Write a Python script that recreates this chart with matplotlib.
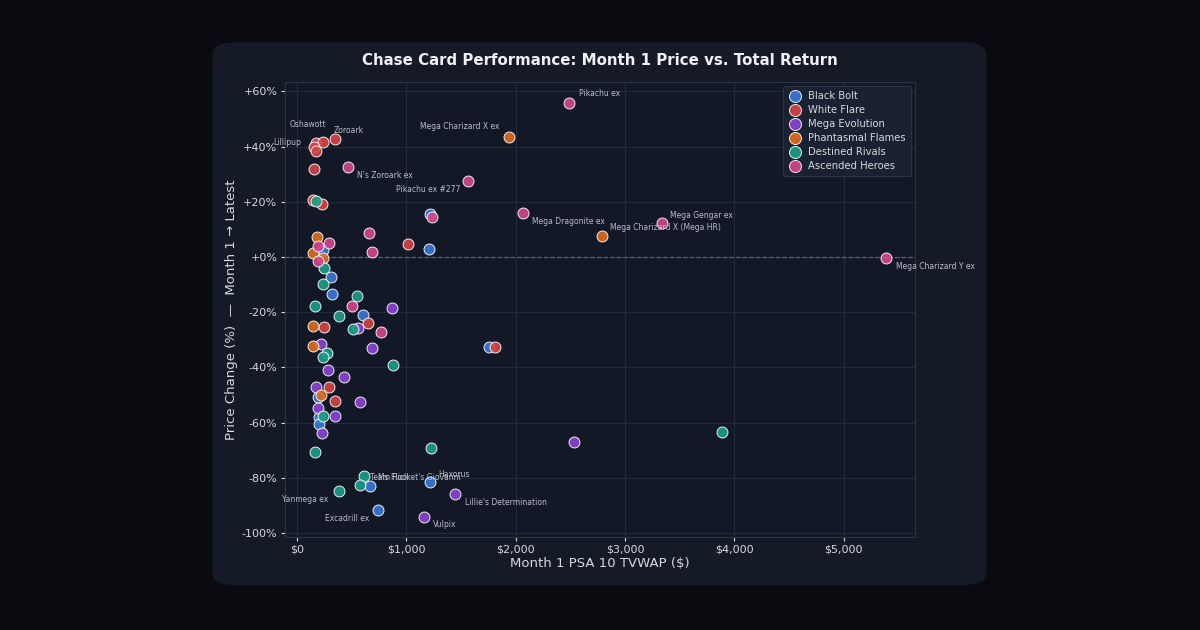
import numpy as np
import matplotlib
matplotlib.use('Agg')
import matplotlib.pyplot as plt
from matplotlib.patches import FancyBboxPatch
from matplotlib.ticker import FuncFormatter

################################### Dati ##########################################
# Month 1 PSA 10 TVWAP ($) e variazione di prezzo (%) per set
bb_x = [1217, 1208, 235, 308, 320, 607, 1759, 195, 204, 201, 668, 1214, 738]
bb_y = [15.6, 2.8, 2.5, -7.2, -13.4, -21.1, -32.4, -50.6, -58.1, -60.6, -82.9, -81.6, -91.6]
bb_n = ['', '', '', '', '', '', '', '', '', '', 'Ms Flick', 'Haxorus', 'Excadrill ex']

wf_x = [174, 241, 348, 158, 174, 153, 231, 149, 1013, 652, 250, 1809, 293, 348]
wf_y = [41.3, 41.8, 42.8, 39.9, 38.4, 31.9, 19.1, 20.5, 4.6, -24.0, -25.4, -32.5, -47.2, -52.1]
wf_n = ['Oshawott', '', 'Zoroark', '', 'Lillipup', '', '', '', '', '', '', '', '', '']

me_x = [866, 561, 220, 683, 284, 433, 171, 576, 195, 350, 226, 2532, 1446, 1165]
me_y = [-18.6, -25.6, -31.5, -33.1, -40.9, -43.6, -47.0, -52.6, -54.6, -57.5, -63.8, -67.1, -85.8, -94.0]
me_n = ['', '', '', '', '', '', '', '', '', '', '', '', "Lillie's Determination", 'Vulpix']

pf_x = [1940, 2788, 180, 149, 241, 149, 149, 220]
pf_y = [43.4, 7.6, 7.4, 1.3, -0.3, -24.9, -32.1, -50.0]
pf_n = ['Mega Charizard X ex', 'Mega Charizard X (Mega HR)', '', '', '', '', '', '']

dr_x = [174, 250, 241, 552, 165, 387, 515, 272, 241, 881, 241, 165, 1226, 3891, 610, 576, 384]
dr_y = [20.3, -3.9, -9.8, -14.1, -17.6, -21.3, -26.1, -34.9, -36.1, -39.0, -57.6, -70.5, -69.0, -63.4, -79.2, -82.7, -84.7]
dr_n = ['', '', '', '', '', '', '', '', '', '', '', '', '', '', '', "Team Rocket's Giovanni", 'Yanmega ex']

ah_x = [2491, 464, 1567, 1238, 2070, 3339, 5389, 661, 686, 293, 189, 195, 506, 771]
ah_y = [55.9, 32.5, 27.5, 14.4, 15.9, 12.2, -0.4, 8.6, 1.7, 5.2, 4.1, -1.3, -17.8, -27.1]
ah_n = ['Pikachu ex', "N's Zoroark ex", 'Pikachu ex #277', '', 'Mega Dragonite ex', 'Mega Gengar ex',
        'Mega Charizard Y ex', '', '', '', '', '', '', '']

sets = [('Black Bolt',        bb_x, bb_y, bb_n, '#3b7bd9'),
        ('White Flare',       wf_x, wf_y, wf_n, '#d64545'),
        ('Mega Evolution',    me_x, me_y, me_n, '#8c46d4'),
        ('Phantasmal Flames', pf_x, pf_y, pf_n, '#de6e1e'),
        ('Destined Rivals',   dr_x, dr_y, dr_n, '#1c9f88'),
        ('Ascended Heroes',   ah_x, ah_y, ah_n, '#d4478c')]

# offset etichette (punti) e allineamento
lab_off = {'Pikachu ex': (7, 7, 'left'), 'Mega Charizard X ex': (-7, 8, 'right'),
           'Oshawott': (-19, 13, 'left'), 'Zoroark': (-1, 6, 'left'), 'Lillipup': (-11, 6, 'right'),
           "N's Zoroark ex": (7, -6, 'left'), 'Pikachu ex #277': (-6, -6, 'right'),
           'Mega Dragonite ex': (6, -6, 'left'), 'Mega Gengar ex': (6, 6, 'left'),
           'Mega Charizard X (Mega HR)': (6, 6, 'left'), 'Mega Charizard Y ex': (7, -6, 'left'),
           'Haxorus': (6, 6, 'left'), "Team Rocket's Giovanni": (7, 6, 'left'), 'Ms Flick': (6, 6, 'left'),
           "Lillie's Determination": (7, -6, 'left'), 'Vulpix': (6, -6, 'left'),
           'Excadrill ex': (-6, -6, 'right'), 'Yanmega ex': (-8, -6, 'right')}

################################### Grafico ##########################################
bg = '#0a0b10'
panel = '#141a26'
txt = '#d5d9e0'

fig = plt.figure(figsize=(12, 6.3), dpi=100, facecolor=bg)
fig.patches.append(FancyBboxPatch((0.177, 0.071), 0.645, 0.862, boxstyle='round,pad=0,rounding_size=0.02',
                                  transform=fig.transFigure, facecolor=panel, edgecolor='none', zorder=-5))

ax = fig.add_axes([0.2375, 0.1476, 0.525, 0.7222])
ax.set_facecolor('#121826')
for s in ax.spines.values():
    s.set_color('#2c3444')
    s.set_linewidth(0.8)
ax.grid(True, color='#232a38', linewidth=0.8)
ax.set_axisbelow(True)
ax.axhline(0, color='#5a6170', linestyle='--', linewidth=0.9, zorder=1)

for name, xs, ys, ns, col in sets:
    ax.scatter(xs, ys, s=62, color=col, alpha=0.9, edgecolors='#ffffff50', linewidths=0.7, label=name, zorder=3)
    for xv, yv, nm in zip(xs, ys, ns):
        if nm:
            dx, dy, ha = lab_off[nm]
            ax.annotate(nm, (xv, yv), xytext=(dx, dy), textcoords='offset points', ha=ha, va='center',
                        fontsize=5.5, color='#b8bdc6', zorder=4)

ax.set_xlim(-110, 5654)
ax.set_ylim(-101.4, 63.4)
ax.set_xticks(np.arange(0, 5001, 1000))
ax.set_yticks(np.arange(-100, 61, 20))
ax.xaxis.set_major_formatter(FuncFormatter(lambda v, p: '${:,.0f}'.format(v)))
ax.yaxis.set_major_formatter(FuncFormatter(lambda v, p: '{:+.0f}%'.format(v)))
ax.tick_params(colors=txt, labelsize=8, length=3, width=0.8, pad=2.5)

ax.set_xlabel('Month 1 PSA 10 TVWAP ($)', fontsize=9.5, color=txt, labelpad=2)
ax.set_ylabel('Price Change (%)  —  Month 1 → Latest', fontsize=9.5, color=txt, labelpad=3)
fig.text(0.5, 0.904, 'Chase Card Performance: Month 1 Price vs. Total Return', ha='center', va='center',
         fontsize=10.8, fontweight='bold', color='#eef0f4')

leg = ax.legend(loc='upper right', fontsize=7.2, facecolor='#1a2130', edgecolor='#2c3444',
                labelcolor=txt, framealpha=1, borderpad=0.5, handlelength=1.3, handletextpad=0.7,
                labelspacing=0.4, markerscale=1.1, borderaxespad=0.4)
leg.get_frame().set_linewidth(0.8)

plt.savefig('out.png', dpi=100, facecolor=bg)
